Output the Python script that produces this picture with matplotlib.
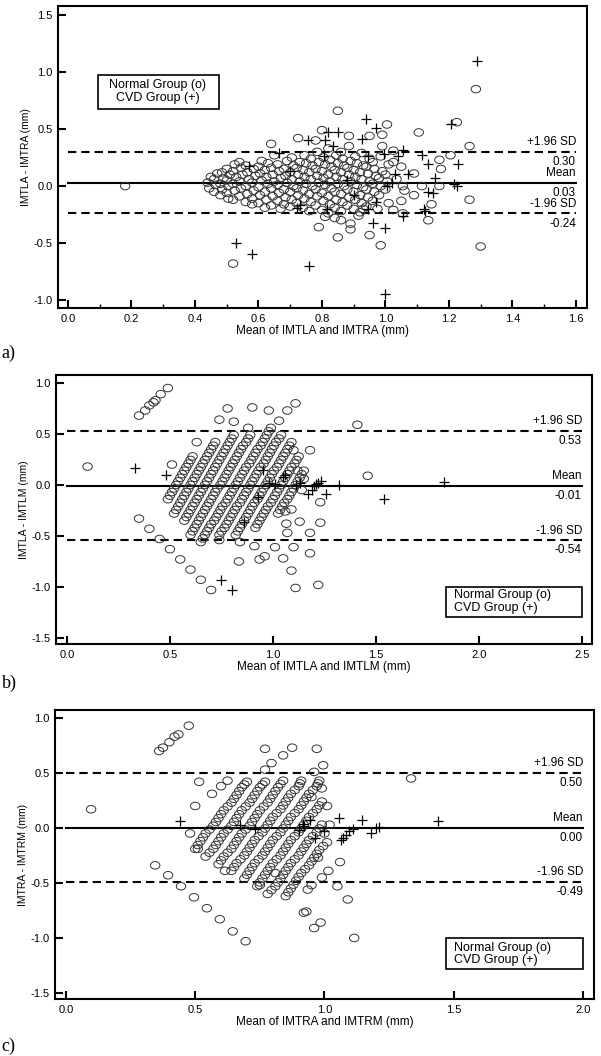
import matplotlib.pyplot as plt
from matplotlib.patches import Rectangle
from matplotlib.path import Path
from matplotlib.transforms import Affine2D
from matplotlib.ticker import MultipleLocator, FormatStrFormatter

plt.rcParams['font.family'] = ['Liberation Sans', 'DejaVu Sans']
plt.rcParams['axes.unicode_minus'] = False

# ---------------- panel a: IMTLA vs IMTRA ----------------
a_norm_x = [
    0.44, 0.445, 0.45,
    0.46, 0.465, 0.46, 0.47,
    0.48, 0.485, 0.48, 0.49, 0.485,
    0.50, 0.505, 0.50, 0.51, 0.505, 0.50,
    0.52, 0.525, 0.52, 0.53, 0.52, 0.525,
    0.54, 0.545, 0.54, 0.55, 0.545, 0.54,
    0.56, 0.565, 0.56, 0.57, 0.565, 0.56,
    0.58, 0.585, 0.58, 0.59, 0.585, 0.58,
    0.60, 0.605, 0.60, 0.61, 0.605, 0.60, 0.61,
    0.62, 0.625, 0.62, 0.63, 0.625, 0.62, 0.63,
    0.64, 0.645, 0.64, 0.65, 0.645, 0.64, 0.65,
    0.66, 0.665, 0.66, 0.67, 0.665, 0.66, 0.67,
    0.68, 0.685, 0.68, 0.69, 0.685, 0.68, 0.69,
    0.70, 0.705, 0.70, 0.71, 0.705, 0.70, 0.71, 0.705,
    0.72, 0.725, 0.72, 0.73, 0.725, 0.72, 0.73,
    0.74, 0.745, 0.74, 0.75, 0.745, 0.74, 0.75, 0.745,
    0.76, 0.765, 0.76, 0.77, 0.765, 0.76, 0.77, 0.765,
    0.78, 0.785, 0.78, 0.79, 0.785, 0.78, 0.79, 0.785,
    0.80, 0.805, 0.80, 0.81, 0.805, 0.80, 0.81, 0.805,
    0.82, 0.825, 0.82, 0.83, 0.825, 0.82, 0.83, 0.825, 0.82,
    0.84, 0.845, 0.84, 0.85, 0.845, 0.84, 0.85, 0.845,
    0.86, 0.865, 0.86, 0.87, 0.865, 0.86, 0.87, 0.865, 0.86,
    0.88, 0.885, 0.88, 0.89, 0.885, 0.88, 0.89, 0.885,
    0.90, 0.905, 0.90, 0.91, 0.905, 0.90, 0.91, 0.905,
    0.92, 0.925, 0.92, 0.93, 0.925, 0.92, 0.93, 0.925,
    0.94, 0.945, 0.94, 0.95, 0.945, 0.94, 0.95,
    0.96, 0.965, 0.96, 0.97, 0.965, 0.96,
    0.98, 0.985, 0.98, 0.99, 0.985,
    1.00, 1.005, 1.00, 1.01,
    0.18, 0.52, 0.79, 0.85, 0.89, 0.89, 0.95, 0.985, 1.135, 1.30,
    1.285, 1.225, 1.105, 1.005, 0.99, 0.85, 0.80, 0.725, 0.64, 0.78,
    0.885, 0.95, 1.265, 1.265, 1.145, 1.09, 1.05, 1.01, 1.025, 1.055,
    0.915, 0.93, 0.975, 1.17, 1.175, 1.17, 1.205, 0.99, 1.025, 1.05,
    1.025, 1.055, 1.09, 1.115, 1.035, 1.06, 0.84, 0.86, 0.81,
]
a_norm_y = [
    0.03, -0.02, 0.08,
    -0.05, 0.01, 0.06, 0.11,
    -0.08, -0.03, 0.02, 0.07, 0.12,
    -0.06, 0.00, 0.05, 0.10, -0.11, 0.15,
    -0.12, -0.04, 0.02, 0.08, 0.13, 0.19,
    -0.09, -0.02, 0.04, 0.10, 0.16, 0.21,
    -0.14, -0.07, 0.00, 0.06, 0.12, 0.18,
    -0.11, -0.04, 0.03, 0.09, 0.15, -0.16,
    -0.15, -0.08, -0.01, 0.05, 0.11, 0.17, 0.22,
    -0.19, -0.12, -0.05, 0.02, 0.08, 0.14, 0.20,
    -0.17, -0.09, -0.02, 0.04, 0.10, 0.16, 0.27,
    -0.13, -0.06, 0.01, 0.07, 0.13, 0.19, -0.20,
    -0.16, -0.10, -0.03, 0.03, 0.09, 0.15, 0.22,
    -0.18, -0.12, -0.05, 0.00, 0.06, 0.12, 0.18, 0.25,
    -0.15, -0.08, -0.02, 0.04, 0.10, 0.16, 0.21,
    -0.19, -0.11, -0.04, 0.02, 0.08, 0.14, 0.20, 0.27,
    -0.22, -0.14, -0.07, 0.00, 0.06, 0.12, 0.18, 0.24,
    -0.17, -0.09, -0.03, 0.03, 0.09, 0.15, 0.21, 0.30,
    -0.21, -0.13, -0.06, 0.01, 0.07, 0.13, 0.19, 0.25,
    -0.24, -0.16, -0.09, -0.02, 0.04, 0.10, 0.17, 0.23, 0.33,
    -0.19, -0.12, -0.05, 0.02, 0.08, 0.14, 0.20, 0.27,
    -0.22, -0.14, -0.07, 0.00, 0.06, 0.12, 0.18, 0.24, 0.30,
    -0.17, -0.10, -0.03, 0.04, 0.10, 0.16, 0.22, 0.35,
    -0.20, -0.12, -0.05, 0.01, 0.08, 0.14, 0.20, 0.26,
    -0.23, -0.15, -0.08, -0.01, 0.06, 0.12, 0.18, 0.29,
    -0.18, -0.10, -0.03, 0.04, 0.11, 0.17, 0.24,
    -0.13, -0.05, 0.02, 0.09, 0.15, 0.21,
    -0.08, 0.00, 0.07, 0.13, 0.26,
    -0.03, 0.04, 0.10, 0.19,
    0.00, -0.68, -0.36, -0.45, -0.38, -0.33, -0.43, -0.52, -0.30, -0.53,
    0.85, 0.56, 0.47, 0.54, 0.45, 0.66, 0.49, 0.42, 0.37, 0.40,
    0.44, 0.44, 0.35, -0.12, -0.16, -0.08, -0.13, -0.15, -0.21, -0.24,
    -0.26, -0.20, -0.20, 0.23, 0.15, 0.00, 0.27, 0.35, 0.31, 0.17,
    0.21, 0.00, 0.11, 0.00, 0.06, -0.04, -0.28, -0.30, -0.27,
]
a_cvd_x = [1.29, 0.94, 0.97, 0.82, 0.85, 0.925, 1.205, 1.23, 1.135, 1.115,
           1.055, 1.04, 1.03, 1.07, 1.155, 1.215, 1.225, 1.135, 1.15, 1.12,
           1.125, 1.055, 1.00, 0.96, 0.97, 0.945, 0.53, 0.58, 0.76, 1.00,
           0.73, 0.72, 0.815, 0.81, 0.755, 0.665, 0.57, 0.835, 0.945, 0.995,
           0.805, 1.005, 1.02, 0.88, 0.90, 0.70]
a_cvd_y = [1.10, 0.59, 0.51, 0.47, 0.47, 0.41, 0.54, 0.19, 0.19, 0.27,
           0.32, 0.26, 0.11, 0.11, 0.07, 0.015, 0.00, -0.05, -0.06, -0.20,
           -0.22, -0.26, -0.37, -0.32, -0.14, -0.20, -0.50, -0.60, -0.70, -0.95,
           -0.17, -0.19, -0.20, 0.40, 0.40, 0.29, 0.18, 0.35, 0.26, 0.28,
           0.26, 0.00, 0.03, 0.05, -0.08, 0.13]
a_limits = [0.30, 0.03, -0.24]

# ---------------- panel b: IMTLA vs IMTLM ----------------
b_norm_x = [
    0.49, 0.51, 0.53, 0.55, 0.57, 0.59, 0.61,
    0.50, 0.52, 0.54, 0.56, 0.58, 0.60,
    0.52, 0.54, 0.56, 0.58, 0.60, 0.62, 0.64, 0.66, 0.68, 0.70, 0.72,
    0.53, 0.55, 0.57, 0.59, 0.61, 0.63, 0.65, 0.67, 0.69, 0.71,
    0.57, 0.59, 0.61, 0.63, 0.65, 0.67, 0.69, 0.71, 0.73, 0.75, 0.77, 0.79, 0.81,
    0.58, 0.60, 0.62, 0.64, 0.66, 0.68, 0.70, 0.72, 0.74, 0.76, 0.78, 0.80,
    0.60, 0.62, 0.64, 0.66, 0.68, 0.70, 0.72, 0.745, 0.765, 0.785, 0.805, 0.825, 0.845, 0.87, 0.89,
    0.61, 0.63, 0.65, 0.67, 0.69, 0.71, 0.73, 0.755, 0.775, 0.795, 0.815, 0.835, 0.855, 0.88,
    0.65, 0.67, 0.69, 0.715, 0.735, 0.755, 0.78, 0.80, 0.82, 0.84, 0.86, 0.885, 0.905, 0.925, 0.95, 0.97, 0.99,
    0.66, 0.68, 0.70, 0.725, 0.745, 0.77, 0.79, 0.81, 0.83, 0.85, 0.87, 0.895, 0.915, 0.94, 0.96, 0.98,
    0.74, 0.765, 0.785, 0.805, 0.825, 0.85, 0.87, 0.89, 0.91, 0.93, 0.955, 0.975, 0.995, 1.015, 1.04,
    0.75, 0.775, 0.795, 0.815, 0.84, 0.86, 0.88, 0.90, 0.92, 0.94, 0.965, 0.985, 1.005, 1.03,
    0.82, 0.84, 0.86, 0.88, 0.90, 0.925, 0.945, 0.965, 0.985, 1.005, 1.03, 1.05, 1.07, 1.09,
    0.83, 0.85, 0.87, 0.89, 0.91, 0.935, 0.955, 0.975, 0.995, 1.02, 1.04, 1.06, 1.08,
    0.915, 0.935, 0.955, 0.975, 1.00, 1.02, 1.04, 1.06, 1.08, 1.105, 1.125,
    0.925, 0.945, 0.965, 0.99, 1.01, 1.03, 1.05, 1.07, 1.09, 1.115,
    1.025, 1.045, 1.07, 1.09, 1.11, 1.13, 1.15,
    1.035, 1.055, 1.08, 1.10, 1.12, 1.14,
    0.10, 0.35, 0.38, 0.40, 0.42, 0.43, 0.455, 0.49,
    0.35, 0.40, 0.45, 0.50, 0.55, 0.60, 0.65, 0.70,
    1.41, 1.46, 1.11, 1.07, 1.03, 0.98, 0.90, 0.78, 0.74, 0.81,
    0.88, 1.18, 1.10, 1.23, 1.23, 1.22, 1.11, 1.18, 1.18, 1.13,
    1.10, 1.09, 1.05, 1.01, 0.96, 0.935, 0.91, 0.835, 0.74, 0.84,
    1.07, 1.065, 1.14, 1.15, 0.63, 0.51, 1.09, 1.06, 1.12,
]
b_norm_y = [
    -0.14, -0.07, 0.00, 0.07, 0.14, 0.21, 0.28,
    -0.105, -0.035, 0.035, 0.105, 0.175, 0.245,
    -0.28, -0.21, -0.14, -0.07, 0.00, 0.07, 0.14, 0.21, 0.28, 0.35, 0.42,
    -0.245, -0.175, -0.105, -0.035, 0.035, 0.105, 0.175, 0.245, 0.315, 0.385,
    -0.35, -0.28, -0.21, -0.14, -0.07, 0.00, 0.07, 0.14, 0.21, 0.28, 0.35, 0.42, 0.49,
    -0.315, -0.245, -0.175, -0.105, -0.035, 0.035, 0.105, 0.175, 0.245, 0.315, 0.385, 0.455,
    -0.49, -0.42, -0.35, -0.28, -0.21, -0.14, -0.07, 0.00, 0.07, 0.14, 0.21, 0.28, 0.35, 0.42, 0.49,
    -0.455, -0.385, -0.315, -0.245, -0.175, -0.105, -0.035, 0.035, 0.105, 0.175, 0.245, 0.315, 0.385, 0.455,
    -0.56, -0.49, -0.42, -0.35, -0.28, -0.21, -0.14, -0.07, 0.00, 0.07, 0.14, 0.21, 0.28, 0.35, 0.42, 0.49, 0.56,
    -0.525, -0.455, -0.385, -0.315, -0.245, -0.175, -0.105, -0.035, 0.035, 0.105, 0.175, 0.245, 0.315, 0.385, 0.455, 0.525,
    -0.49, -0.42, -0.35, -0.28, -0.21, -0.14, -0.07, 0.00, 0.07, 0.14, 0.21, 0.28, 0.35, 0.42, 0.49,
    -0.455, -0.385, -0.315, -0.245, -0.175, -0.105, -0.035, 0.035, 0.105, 0.175, 0.245, 0.315, 0.385, 0.455,
    -0.49, -0.42, -0.35, -0.28, -0.21, -0.14, -0.07, 0.00, 0.07, 0.14, 0.21, 0.28, 0.35, 0.42,
    -0.455, -0.385, -0.315, -0.245, -0.175, -0.105, -0.035, 0.035, 0.105, 0.175, 0.245, 0.315, 0.385,
    -0.42, -0.35, -0.28, -0.21, -0.14, -0.07, 0.00, 0.07, 0.14, 0.21, 0.28,
    -0.385, -0.315, -0.245, -0.175, -0.105, -0.035, 0.035, 0.105, 0.175, 0.245,
    -0.28, -0.21, -0.14, -0.07, 0.00, 0.07, 0.14,
    -0.245, -0.175, -0.105, -0.035, 0.035, 0.105,
    0.18, 0.68, 0.73, 0.78, 0.81, 0.83, 0.89, 0.95,
    -0.33, -0.43, -0.53, -0.63, -0.73, -0.83, -0.93, -1.03,
    0.59, 0.09, 0.80, 0.73, 0.63, 0.73, 0.76, 0.75, 0.64, 0.62,
    0.56, 0.34, 0.34, -0.17, -0.37, -0.98, -1.01, -0.67, -0.47, -0.36,
    -0.61, -0.84, -0.72, -0.61, -0.70, -0.73, -0.60, -0.75, -0.54, -0.56,
    -0.47, -0.38, -0.05, 0.06, 0.42, 0.20, -0.24, -0.26, 0.14,
]
b_cvd_x = [0.33, 0.48, 1.83, 1.54, 1.32, 1.26, 1.17, 1.19, 0.75, 0.80,
           1.01, 1.05, 1.06, 1.11, 1.13, 1.21, 1.22, 1.235, 1.20, 0.93,
           0.98, 0.86, 0.95]
b_cvd_y = [0.17, 0.10, 0.03, -0.14, 0.00, -0.09, -0.09, -0.05, -0.93, -1.03,
           0.01, 0.08, 0.10, 0.00, 0.02, 0.01, 0.02, 0.04, -0.01, -0.12,
           0.02, -0.36, 0.15]
b_limits = [0.53, -0.01, -0.54]

# ---------------- panel c: IMTRA vs IMTRM ----------------
c_norm_x = [
    0.50, 0.52, 0.54, 0.57, 0.59, 0.61, 0.64, 0.66, 0.68, 0.70,
    0.51, 0.53, 0.555, 0.58, 0.60, 0.625, 0.65, 0.67, 0.69,
    0.54, 0.57, 0.59, 0.61, 0.64, 0.66, 0.68, 0.71, 0.73, 0.75, 0.77,
    0.555, 0.58, 0.60, 0.625, 0.65, 0.67, 0.695, 0.72, 0.74, 0.76,
    0.59, 0.61, 0.64, 0.66, 0.68, 0.71, 0.73, 0.75, 0.78, 0.80, 0.82, 0.84,
    0.60, 0.625, 0.65, 0.67, 0.695, 0.72, 0.74, 0.765, 0.79, 0.81, 0.83,
    0.64, 0.66, 0.69, 0.71, 0.73, 0.76, 0.78, 0.80, 0.83, 0.85, 0.87, 0.90, 0.91,
    0.65, 0.675, 0.70, 0.72, 0.745, 0.77, 0.79, 0.815, 0.84, 0.86, 0.885, 0.905,
    0.69, 0.71, 0.73, 0.76, 0.78, 0.80, 0.83, 0.85, 0.87, 0.90, 0.92, 0.94, 0.97, 0.98,
    0.70, 0.72, 0.745, 0.77, 0.79, 0.815, 0.84, 0.86, 0.885, 0.91, 0.93, 0.955, 0.975,
    0.74, 0.76, 0.78, 0.80, 0.83, 0.85, 0.87, 0.90, 0.92, 0.94, 0.97, 0.99,
    0.75, 0.77, 0.79, 0.815, 0.84, 0.86, 0.885, 0.91, 0.93, 0.955, 0.98,
    0.78, 0.81, 0.83, 0.85, 0.87, 0.90, 0.92, 0.94, 0.97, 0.99,
    0.795, 0.82, 0.84, 0.86, 0.885, 0.91, 0.93, 0.955, 0.98,
    0.85, 0.87, 0.89, 0.91, 0.94, 0.96, 0.98, 1.01,
    0.86, 0.88, 0.90, 0.925, 0.95, 0.97, 0.995,
    0.097, 0.36, 0.375, 0.40, 0.42, 0.435, 0.475,
    0.345, 0.395, 0.445, 0.495, 0.545, 0.595, 0.645, 0.695,
    1.335, 0.77, 0.84, 0.875, 0.97, 0.995, 0.96, 0.795, 0.77, 0.515,
    0.625, 0.60, 0.565, 0.50, 1.01, 0.99, 0.95,
    1.06, 1.05, 1.09, 1.115, 0.985, 0.96, 0.93, 0.92, 1.015, 0.99,
    0.95, 0.935, 0.975, 0.81, 0.75, 0.615, 0.48, 0.51, 1.02, 1.00,
]
c_norm_y = [
    -0.19, -0.12, -0.05, 0.02, 0.09, 0.16, 0.23, 0.30, 0.37, 0.42,
    -0.155, -0.085, -0.015, 0.055, 0.125, 0.195, 0.265, 0.335, 0.395,
    -0.26, -0.19, -0.12, -0.05, 0.02, 0.09, 0.16, 0.23, 0.30, 0.37, 0.42,
    -0.225, -0.155, -0.085, -0.015, 0.055, 0.125, 0.195, 0.265, 0.335, 0.395,
    -0.33, -0.26, -0.19, -0.12, -0.05, 0.02, 0.09, 0.16, 0.23, 0.30, 0.37, 0.43,
    -0.295, -0.225, -0.155, -0.085, -0.015, 0.055, 0.125, 0.195, 0.265, 0.335, 0.40,
    -0.39, -0.32, -0.25, -0.18, -0.11, -0.04, 0.03, 0.10, 0.17, 0.24, 0.31, 0.38, 0.43,
    -0.355, -0.285, -0.215, -0.145, -0.075, -0.005, 0.065, 0.135, 0.205, 0.275, 0.345, 0.405,
    -0.46, -0.39, -0.32, -0.25, -0.18, -0.11, -0.04, 0.03, 0.10, 0.17, 0.24, 0.31, 0.38, 0.43,
    -0.425, -0.355, -0.285, -0.215, -0.145, -0.075, -0.005, 0.065, 0.135, 0.205, 0.275, 0.345, 0.405,
    -0.53, -0.46, -0.39, -0.32, -0.25, -0.18, -0.11, -0.04, 0.03, 0.10, 0.17, 0.24,
    -0.495, -0.425, -0.355, -0.285, -0.215, -0.145, -0.075, -0.005, 0.065, 0.135, 0.205,
    -0.60, -0.53, -0.46, -0.39, -0.32, -0.25, -0.18, -0.11, -0.04, 0.03,
    -0.565, -0.495, -0.425, -0.355, -0.285, -0.215, -0.145, -0.075, -0.005,
    -0.62, -0.55, -0.48, -0.41, -0.34, -0.27, -0.20, -0.13,
    -0.585, -0.515, -0.445, -0.375, -0.305, -0.235, -0.165,
    0.17, 0.70, 0.73, 0.78, 0.83, 0.85, 0.93,
    -0.34, -0.43, -0.53, -0.63, -0.73, -0.83, -0.94, -1.03,
    0.45, 0.72, 0.66, 0.73, 0.72, 0.57, 0.51, 0.59, 0.53, 0.42,
    0.43, 0.38, 0.31, 0.20, 0.20, 0.36, 0.28,
    -0.31, -0.53, -0.65, -1.00, -0.86, -0.91, -0.76, -0.77, -0.39, -0.45,
    -0.52, -0.56, -0.27, -0.41, -0.52, -0.39, -0.05, -0.19, 0.03, -0.05,
]
c_cvd_x = [0.44, 0.675, 0.73, 1.055, 1.145, 1.44, 1.18, 1.21, 1.20, 1.07,
           1.085, 1.095, 1.11, 0.965, 1.00, 0.945, 0.915, 0.92, 0.90, 1.065]
c_cvd_y = [0.06, 0.03, -0.01, 0.09, 0.07, 0.06, -0.05, 0.01, 0.00, -0.09,
           -0.06, -0.03, -0.01, -0.09, -0.03, 0.07, 0.04, 0.02, -0.02, -0.11]
c_limits = [0.50, 0.00, -0.49]

# open circles in the original are a little wider than tall
ellipse = Path.unit_circle().transformed(Affine2D().scale(1.25, 1.0))


def bland_altman(ax, nx, ny, cx, cy, limits, xmax, xlabel, ylabel):
    ax.scatter(nx, ny, s=46, marker=ellipse, facecolors='none',
               edgecolors='#333333', linewidths=0.7, zorder=3)
    ax.scatter(cx, cy, s=42, marker='+', c='black', linewidths=0.9, zorder=4)
    upper, mean, lower = limits
    ax.plot([0, xmax], [mean, mean], color='black', lw=1.5, zorder=2)
    for v in (upper, lower):
        ax.plot([0, xmax], [v, v], color='black', lw=1.5,
                ls=(0, (4, 2.4)), zorder=2)
    for name, v in (('+1.96 SD', upper), ('Mean', mean), ('-1.96 SD', lower)):
        ax.annotate(name, (xmax, v), xytext=(0, 2.5), textcoords='offset points',
                    ha='right', va='bottom', fontsize=8.5)
        ax.annotate(f'{v:.2f}', (xmax, v), xytext=(0, -3), textcoords='offset points',
                    ha='right', va='top', fontsize=8.5)
    ax.set_xlabel(xlabel, fontsize=8.5, labelpad=1)
    ax.set_ylabel(ylabel, fontsize=7.5, labelpad=2)
    ax.xaxis.set_major_formatter(FormatStrFormatter('%.1f'))
    ax.yaxis.set_major_formatter(FormatStrFormatter('%.1f'))
    ax.tick_params(which='major', direction='in', length=6, width=1.5,
                   labelsize=8, pad=4, top=False, right=False)
    ax.tick_params(which='minor', direction='in', length=3, width=1.0,
                   top=False, right=False)
    for sp in ax.spines.values():
        sp.set_linewidth(1.5)


def legend_box(ax, x0, y0, x1, y1, tx, ty1, ty2, ha):
    ax.add_patch(Rectangle((x0, y0), x1 - x0, y1 - y0, fill=False,
                           lw=1.2, ec='black', zorder=5))
    ax.text(tx, ty1, 'Normal Group (o)', ha=ha, va='center', fontsize=9)
    ax.text(tx, ty2, 'CVD Group (+)', ha=ha, va='center', fontsize=9)


fig = plt.figure(figsize=(6.01, 10.56), dpi=100)

ax1 = fig.add_axes([0.0965, 0.7083, 0.8802, 0.2860])
bland_altman(ax1, a_norm_x, a_norm_y, a_cvd_x, a_cvd_y, a_limits, 1.6,
             'Mean of IMTLA and IMTRA (mm)', 'IMTLA - IMTRA (mm)')
ax1.set_xlim(-0.0315, 1.635)
ax1.set_ylim(-1.07, 1.579)
ax1.xaxis.set_major_locator(MultipleLocator(0.2))
ax1.xaxis.set_minor_locator(MultipleLocator(0.1))
ax1.yaxis.set_major_locator(MultipleLocator(0.5))
legend_box(ax1, 0.095, 0.673, 0.475, 0.974, 0.283, 0.886, 0.769, 'center')

ax2 = fig.add_axes([0.0932, 0.3902, 0.8918, 0.2547])
bland_altman(ax2, b_norm_x, b_norm_y, b_cvd_x, b_cvd_y, b_limits, 2.5,
             'Mean of IMTLA and IMTLM (mm)', 'IMTLA - IMTLM (mm)')
ax2.set_xlim(-0.053, 2.549)
ax2.set_ylim(-1.559, 1.078)
ax2.xaxis.set_major_locator(MultipleLocator(0.5))
ax2.yaxis.set_major_locator(MultipleLocator(0.5))
legend_box(ax2, 1.84, -1.29, 2.5, -1.0, 1.88, -1.082, -1.206, 'left')

ax3 = fig.add_axes([0.0915, 0.0540, 0.8968, 0.2737])
bland_altman(ax3, c_norm_x, c_norm_y, c_cvd_x, c_cvd_y, c_limits, 2.0,
             'Mean of IMTRA and IMTRM (mm)', 'IMTRA - IMTRM (mm)')
ax3.set_xlim(-0.0426, 2.0426)
ax3.set_ylim(-1.555, 1.073)
ax3.xaxis.set_major_locator(MultipleLocator(0.5))
ax3.yaxis.set_major_locator(MultipleLocator(0.5))
legend_box(ax3, 1.47, -1.285, 2.0, -1.0, 1.50, -1.089, -1.205, 'left')

for lab, y in (('a)', 353), ('b)', 683), ('c)', 1046)):
    fig.text(0.003, 1 - y / 1056, lab, family=['Liberation Serif', 'DejaVu Serif'],
             fontsize=13, va='center', ha='left')

fig.savefig('out.png', dpi=100)
